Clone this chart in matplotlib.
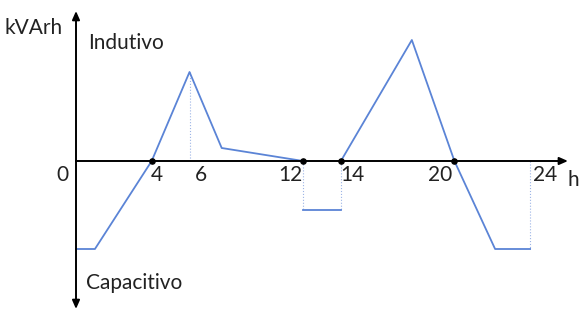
import matplotlib
matplotlib.use("Agg")
import matplotlib.pyplot as plt

# curve: hour vs kVArh (arbitrary units, + inductive / - capacitive)
hours = [0, 1.0, 4, 6, 7.7, 12]
kvarh = [-8.8, -8.8, 0, 8.9, 1.3, 0]
hours_cap = [12, 14]
kvarh_cap = [-4.9, -4.9]
hours_b = [14, 17.75, 20, 22.15, 24]
kvarh_b = [0, 12.1, 0, -8.8, -8.8]

# dotted guides (hour, value)
guides = [(6, 8.9), (12, -4.9), (14, -4.9), (24, -8.8)]
marked_hours = [4, 12, 14, 20]
tick_labels = {0: "0", 4: "4", 6: "6", 12: "12", 14: "14", 20: "20", 24: "24"}

plt.rcParams["font.family"] = ["Lato", "DejaVu Sans"]
blue = "#5b84d6"
txt = "#222222"

fig = plt.figure(figsize=(5.81, 3.12), dpi=100)
ax = fig.add_axes([0, 0, 1, 1])
ax.set_xlim(-4.017, 26.69)
ax.set_ylim(-15.1, 16.1)
ax.axis("off")

for h, v in guides:
    ax.plot([h, h], [0, v], color="#9db5e6", lw=0.8, ls=":")

ax.plot(hours, kvarh, color=blue, lw=1.3)
ax.plot(hours_cap, kvarh_cap, color=blue, lw=1.3)
ax.plot(hours_b, kvarh_b, color=blue, lw=1.3)

# axes with arrows
arrow = dict(arrowstyle="-|>,head_length=0.5,head_width=0.22", color="black", lw=1.4,
             shrinkA=0, shrinkB=0)
ax.annotate("", xy=(0, 15.0), xytext=(0, 0), arrowprops=arrow)
ax.annotate("", xy=(0, -14.8), xytext=(0, 0), arrowprops=arrow)
ax.annotate("", xy=(26.0, 0), xytext=(0, 0), arrowprops=arrow)

ax.scatter(marked_hours, [0] * len(marked_hours), s=14, color="black", zorder=5)

fs = 15
offsets = {0: -0.74, 4: 0.28, 6: 0.61, 12: -0.69, 14: 0.59, 20: -0.76, 24: 0.79}
for h, lab in tick_labels.items():
    ax.text(h + offsets[h], -1.4, lab, ha="center", va="center", fontsize=fs, color=txt)
ax.text(26.27, -1.9, "h", ha="center", va="center", fontsize=fs, color=txt)
ax.text(-0.69, 13.3, "kVArh", ha="right", va="center", fontsize=fs, color=txt)
ax.text(0.63, 11.8, "Indutivo", ha="left", va="center", fontsize=fs, color=txt)
ax.text(0.53, -12.2, "Capacitivo", ha="left", va="center", fontsize=fs, color=txt)

fig.savefig("out.png", dpi=100)
